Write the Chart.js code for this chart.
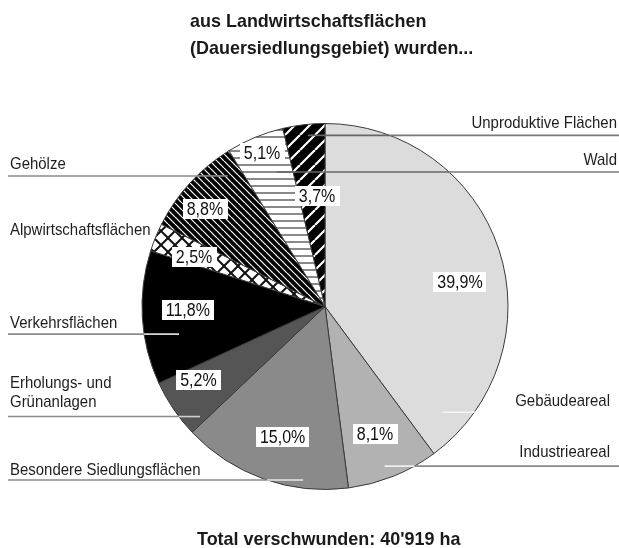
<!DOCTYPE html>
<html><head><meta charset="utf-8">
<script src="https://cdn.jsdelivr.net/npm/chart.js@4.4.1/dist/chart.umd.min.js"></script>
<style>html,body{margin:0;padding:0;background:#fff;}canvas{display:block;}</style>
</head><body>
<canvas id="c" width="619" height="548"></canvas>
<script>
// ---------- data ----------
const categories = ['Gebäudeareal','Industrieareal','Besondere Siedlungsflächen','Erholungs- und\nGrünanlagen','Verkehrsflächen','Alpwirtschaftsflächen','Gehölze','Wald','Unproduktive Flächen'];
const shares = [39.9, 8.1, 15.0, 5.2, 11.8, 2.5, 8.8, 5.1, 3.7];
const valueLabels = ['39,9%','8,1%','15,0%','5,2%','11,8%','2,5%','8,8%','5,1%','3,7%'];
const titleLines = ['aus Landwirtschaftsflächen','(Dauersiedlungsgebiet) wurden...'];
const footerText = "Total verschwunden: 40'919 ha";

// ---------- styles / layout ----------
const canvas = document.getElementById('c');
const mctx = canvas.getContext('2d');
function tile(size, bg, draw){
  const c=document.createElement('canvas'); c.width=c.height=size;
  const x=c.getContext('2d'); x.fillStyle=bg; x.fillRect(0,0,size,size); draw(x,size);
  return mctx.createPattern(c,'repeat');
}
function slash(x,s){ for(let k=-1;k<=1;k++){ x.beginPath(); x.moveTo(k*s, s); x.lineTo(k*s+s, 0); x.stroke(); } }
function backslash(x,s){ for(let k=-1;k<=1;k++){ x.beginPath(); x.moveTo(k*s, 0); x.lineTo(k*s+s, s); x.stroke(); } }
const patAlp = tile(14,'#ffffff',(x,s)=>{x.strokeStyle='#111';x.lineWidth=2;slash(x,s);backslash(x,s);});
const patGeh = tile(7,'#000000',(x,s)=>{x.strokeStyle='#fff';x.lineWidth=1.2;backslash(x,s);});
const patWald = tile(7,'#ffffff',(x,s)=>{x.fillStyle='#8a8a8a';x.fillRect(0,3,s,2);});
const patUnp = tile(15,'#000000',(x,s)=>{x.strokeStyle='#fff';x.lineWidth=2.2;slash(x,s);});
const fills = ['#dcdcdc','#b2b2b2','#8a8a8a','#555555','#000000',patAlp,patGeh,patWald,patUnp];

// label layout: t = fraction across slice angle, r = fraction of radius
const valuePos = [
  {t:0.555,r:0.75},{t:0.52,r:0.75},{t:0.47,r:0.75},{t:0.71,r:0.80},{t:0.55,r:0.75},
  {t:0.33,r:0.765},{t:0.39,r:0.845},{t:0.51,r:0.907},{t:0.69,r:0.605}
];
const leaderPos = [
  {side:'right',t:0.92,r:0.863,tx:610,dy:-11,inner:'#f4f4f4',outer:'#ffffff'},
  {side:'right',t:0.55,r:0.931,tx:610,dy:-14,inner:'#f4f4f4',outer:'#8a8a8a'},
  {side:'left', t:0.27,r:0.956,tx:10, dy:-10,inner:'#e8e8e8',outer:'#8a8a8a'},
  {side:'left', t:0.11,r:0.91, tx:10, dy:-14,inner:'#cfcfcf',outer:'#8a8a8a'},
  {side:'left', t:0.33,r:0.812,tx:10, dy:-11,inner:'#d8d8d8',outer:'#8a8a8a'},
  {side:'left', t:0.5, r:1.0,  tx:10, dy:-7, noLine:true},
  {side:'left', t:0.84,r:0.89, tx:10, dy:-12,inner:'#8a8a8a',outer:'#8a8a8a'},
  {side:'right',t:0.65,r:0.781,tx:617,dy:-12,inner:'#666666',outer:'#7a7a7a'},
  {side:'right',t:0.57,r:0.94, tx:617,dy:-12,inner:'#666666',outer:'#7a7a7a'}
];

const catFont = '17px "Liberation Sans", Arial, sans-serif', catScale = 0.88;
const valFont = '18px "Liberation Sans", Arial, sans-serif', valScale = 0.89;
const boldFont = 'bold 19px "Liberation Sans", Arial, sans-serif', boldScale = 0.945;

// draw text horizontally condensed; align: 'left' | 'right' | 'center'
function condText(ctx, txt, x, y, sx, align){
  const w = ctx.measureText(txt).width*sx;
  let left = align==='left'?x:(align==='right'?x-w:x-w/2);
  ctx.save(); ctx.translate(left,y); ctx.scale(sx,1); ctx.textAlign='left'; ctx.fillText(txt,0,0); ctx.restore();
}

const decor = {
  id:'decor',
  afterDatasetsDraw(chart){
    const ctx=chart.ctx; const arcs=chart.getDatasetMeta(0).data;
    const cx=arcs[0].x, cy=arcs[0].y, R=arcs[0].outerRadius;
    ctx.save();
    // leader lines and category names
    categories.forEach((name,i)=>{
      const a=arcs[i], L=leaderPos[i];
      const ang=a.startAngle+(a.endAngle-a.startAngle)*L.t;
      const px=cx+Math.cos(ang)*R*L.r, py=cy+Math.sin(ang)*R*L.r;
      if(!L.noLine){
        const dy=py-cy; const half=Math.abs(dy)<R?Math.sqrt(R*R-dy*dy):0;
        ctx.lineWidth=1.6;
        if(L.side==='left'){
          const xe=cx-half;
          ctx.strokeStyle=L.outer; ctx.beginPath(); ctx.moveTo(8,py); ctx.lineTo(xe,py); ctx.stroke();
          ctx.strokeStyle=L.inner; ctx.beginPath(); ctx.moveTo(xe,py); ctx.lineTo(px,py); ctx.stroke();
        } else {
          const xe=cx+half;
          ctx.strokeStyle=L.inner; ctx.beginPath(); ctx.moveTo(px,py); ctx.lineTo(xe,py); ctx.stroke();
          ctx.strokeStyle=L.outer; ctx.beginPath(); ctx.moveTo(xe,py); ctx.lineTo(619,py); ctx.stroke();
        }
      }
      const lines=name.split('\n');
      ctx.font=catFont; ctx.fillStyle='#1e1e1e'; ctx.textBaseline='middle';
      lines.forEach((ln,k)=>{
        condText(ctx, ln, L.tx, py+L.dy-(lines.length-1-k)*19, catScale, L.side==='left'?'left':'right');
      });
    });
    // value boxes
    ctx.font=valFont; ctx.textBaseline='middle';
    valueLabels.forEach((txt,i)=>{
      const a=arcs[i], P=valuePos[i];
      const ang=a.startAngle+(a.endAngle-a.startAngle)*P.t;
      const x=cx+Math.cos(ang)*R*P.r, y=cy+Math.sin(ang)*R*P.r;
      const w=ctx.measureText(txt).width*valScale+8, h=20;
      ctx.fillStyle='#ffffff'; ctx.fillRect(Math.round(x-w/2),Math.round(y-h/2),Math.round(w),h);
      ctx.fillStyle='#111'; condText(ctx, txt, x, y+1, valScale, 'center');
    });
    // title and footer
    ctx.font=boldFont; ctx.fillStyle='#1a1a1a'; ctx.textBaseline='alphabetic';
    condText(ctx, titleLines[0],190,27,boldScale,'left');
    condText(ctx, titleLines[1],190,54,boldScale,'left');
    condText(ctx, footerText,197,545,boldScale,'left');
    ctx.restore();
  }
};

new Chart(canvas,{
  type:'pie',
  data:{labels:categories.map(c=>c.replace('\n',' ')),datasets:[{data:shares,backgroundColor:fills,borderColor:'#3a3a3a',borderWidth:1}]},
  options:{
    responsive:false, animation:false, devicePixelRatio:1,
    events:[],
    layout:{padding:{left:100,right:69,top:123,bottom:58}},
    plugins:{legend:{display:false},tooltip:{enabled:false},title:{display:false}}
  },
  plugins:[decor]
});
</script>
</body></html>
